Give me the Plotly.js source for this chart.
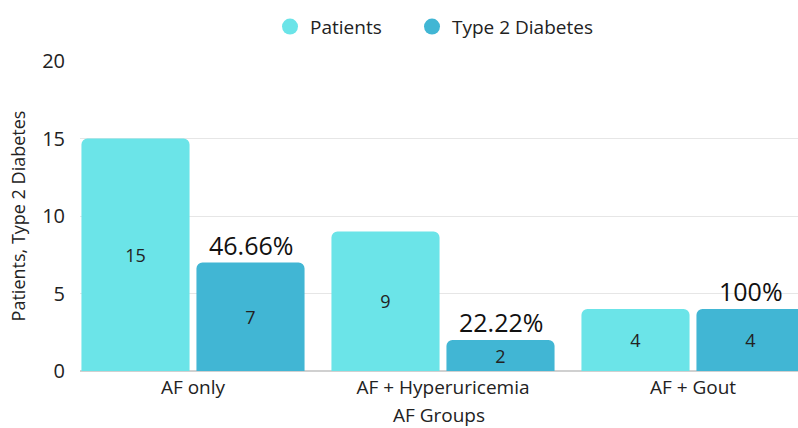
<!DOCTYPE html>
<html>
<head>
<meta charset="utf-8">
<script src="https://cdn.plot.ly/plotly-3.0.1.min.js"></script>
<style>html,body{margin:0;padding:0;background:#fff;}#chart{width:798px;height:428px;}</style>
</head>
<body>
<div id="chart"></div>
<script>
const categories = ["AF only", "AF + Hyperuricemia", "AF + Gout"];
const patients = [15, 9, 4];
const diabetes = [7, 2, 4];
const percentLabels = ["46.66%", "22.22%", "100%"];
const yTicks = [0, 5, 10, 15, 20];

const colPatients = "#6BE4E8";
const colDiabetes = "#41B6D4";
const FONT = "'Open Sans', sans-serif";

const bargap = 0.08;
const bargroupgap = 0.06;
const slot = (1 - bargap) / 2;
const idx = categories.map((c, i) => i);

const traces = [
  {type: "bar", x: idx, y: patients, name: "Patients", marker: {color: colPatients},
   text: patients.map(String), textposition: "inside", insidetextanchor: "middle",
   textfont: {size: 18, color: "#222", family: FONT}, showlegend: false, hoverinfo: "y"},
  {type: "bar", x: idx, y: diabetes, name: "Type 2 Diabetes", marker: {color: colDiabetes},
   text: diabetes.map(String), textposition: "inside", insidetextanchor: "middle",
   textfont: {size: 18, color: "#222", family: FONT}, showlegend: false, hoverinfo: "y"},
  {type: "scatter", mode: "markers", x: [null], y: [null], name: "Patients", legend: "legend",
   marker: {color: colPatients, size: 19, symbol: "circle"}, showlegend: true},
  {type: "scatter", mode: "markers", x: [null], y: [null], name: "Type 2 Diabetes", legend: "legend2",
   marker: {color: colDiabetes, size: 19, symbol: "circle"}, showlegend: true}
];

const annotations = diabetes.map((v, i) => ({
  x: i + slot / 2, y: v, xref: "x", yref: "y", text: percentLabels[i],
  showarrow: false, yanchor: "bottom", yshift: -1,
  font: {size: 25, color: "#111", family: FONT}
}));

const legendBase = {
  orientation: "h", xref: "container", xanchor: "left",
  yref: "container", y: 0.982, yanchor: "top",
  font: {size: 19, family: FONT, color: "#222"}, itemsizing: "trace",
  bgcolor: "rgba(0,0,0,0)"
};

const layout = {
  width: 798, height: 428,
  margin: {l: 80, r: 0, t: 61, b: 57},
  paper_bgcolor: "#ffffff", plot_bgcolor: "#ffffff",
  barmode: "group", bargap: bargap, bargroupgap: bargroupgap, barcornerradius: 6,
  font: {family: FONT, color: "#222"},
  showlegend: true,
  legend: Object.assign({}, legendBase, {x: 270 / 798}),
  legend2: Object.assign({}, legendBase, {x: 412 / 798}),
  xaxis: {range: [-0.452, 2.42], tickmode: "array", tickvals: idx, ticktext: categories,
          tickfont: {size: 19, family: FONT, color: "#222"}, showgrid: false, zeroline: false,
          showline: false, ticks: "", ticklen: 0, ticklabelstandoff: 3,
          title: {text: "AF Groups", font: {size: 19, family: FONT, color: "#222"}, standoff: 13}},
  yaxis: {range: [0, 20], tickmode: "array", tickvals: yTicks, ticktext: yTicks.map(String),
          tickfont: {size: 20, family: FONT, color: "#222"}, gridcolor: "#e6e6e6", gridwidth: 1,
          zeroline: true, zerolinecolor: "#d0d0d0", zerolinewidth: 2, ticks: "", ticklabelstandoff: 14,
          title: {text: "Patients, Type 2 Diabetes", font: {size: 18, family: FONT, color: "#222"}, standoff: 11}},
  annotations: annotations
};

Plotly.newPlot("chart", traces, layout, {displayModeBar: false, staticPlot: true});
</script>
</body>
</html>
